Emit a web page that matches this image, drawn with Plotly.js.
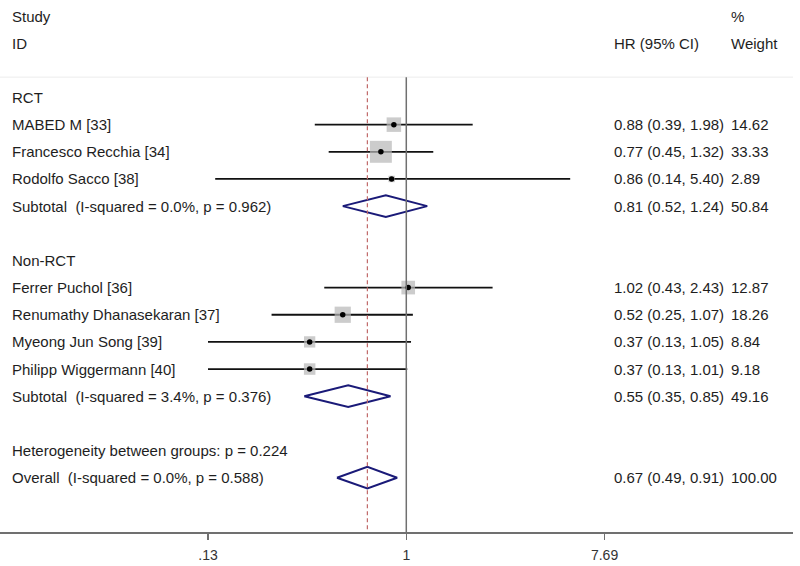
<!DOCTYPE html>
<html><head><meta charset="utf-8">
<script src="https://cdn.plot.ly/plotly-3.0.1.min.js"></script>
<style>html,body{margin:0;padding:0;background:#fff}#chart{width:800px;height:566px}</style>
</head><body><div id="chart"></div>
<script>
// ---- data ----
const groupNames = ['RCT', 'Non-RCT'];
const studies = ['MABED M [33]', 'Francesco Recchia [34]', 'Rodolfo Sacco [38]',
  'Ferrer Puchol [36]', 'Renumathy Dhanasekaran [37]', 'Myeong Jun Song [39]', 'Philipp Wiggermann [40]'];
const studyGroup = [0, 0, 0, 1, 1, 1, 1];
const hr = [0.88, 0.77, 0.86, 1.02, 0.52, 0.37, 0.37];
const lo = [0.39, 0.45, 0.14, 0.43, 0.25, 0.13, 0.13];
const hi = [1.98, 1.32, 5.40, 2.43, 1.07, 1.05, 1.01];
const weight = [14.62, 33.33, 2.89, 12.87, 18.26, 8.84, 9.18];
const subLabels = ['Subtotal\u00a0 (I-squared = 0.0%, p = 0.962)', 'Subtotal\u00a0 (I-squared = 3.4%, p = 0.376)'];
const subHr = [0.81, 0.55];
const subLo = [0.52, 0.35];
const subHi = [1.24, 0.85];
const subW = [50.84, 49.16];
const hetLabel = 'Heterogeneity between groups: p = 0.224';
const overallLabel = 'Overall\u00a0 (I-squared = 0.0%, p = 0.588)';
const overallHr = 0.67, overallLo = 0.49, overallHi = 0.91, overallW = 100.00;
const tickVals = [0.13, 1, 7.69];
const tickText = ['.13', '1', '7.69'];
const nullValue = 1;

// ---- layout of rows ----
const FONT = 'Liberation Sans, Arial, sans-serif';
const TXT = '#1e1e1e';
const studyRow = [], subRow = [], groupRow = [];
let r = 3;
groupNames.forEach((g, gi) => {
  groupRow.push(r); r++;
  studies.forEach((s, i) => { if (studyGroup[i] === gi) { studyRow[i] = r; r++; } });
  subRow.push(r); r++;
  r++;
});
const hetRow = r; r++;
const overallRow = r;
const sepRow = 2.25, bottomRow = 19.0;
const H = 0.4;

const fmt = v => v.toFixed(2);
const hrText = (e, l, h) => `${fmt(e)} (${fmt(l)}, ${fmt(h)})`;

// CI lines
const ciX = [], ciY = [];
studies.forEach((s, i) => { ciX.push(lo[i], hi[i], null); ciY.push(studyRow[i], studyRow[i], null); });

// diamonds
const dX = [], dY = [];
function diamond(e, l, h, row) {
  dX.push(l, e, h, e, l, null);
  dY.push(row, row - H, row, row + H, row, null);
}
subHr.forEach((e, i) => diamond(e, subLo[i], subHi[i], subRow[i]));
diamond(overallHr, overallLo, overallHi, overallRow);

const traces = [
  { x: ciX, y: ciY, mode: 'lines', line: { color: '#111', width: 1.8 }, hoverinfo: 'skip', showlegend: false },
  { x: hr, y: studyRow, mode: 'markers', marker: { symbol: 'square', size: weight.map(w => 3.8 * Math.sqrt(w)), color: '#b6b6b6', line: { width: 0 } }, hoverinfo: 'skip', showlegend: false },
  { x: hr, y: studyRow, mode: 'markers', marker: { symbol: 'circle', size: 5.5, color: '#000' }, hoverinfo: 'skip', showlegend: false },
  { x: dX, y: dY, mode: 'lines', line: { color: '#1a1a78', width: 2 }, hoverinfo: 'skip', showlegend: false }
];

const PW = 793;
const px = p => p / PW;
const ann = [];
function txt(x, row, text) {
  ann.push({ xref: 'paper', yref: 'y', x: px(x), y: row, text: text, showarrow: false,
    xanchor: 'left', yanchor: 'middle', font: { family: FONT, size: 15, color: TXT } });
}
txt(10, 0, 'Study'); txt(10, 1, 'ID');
txt(612, 1, 'HR (95% CI)'); txt(729, 0, '%'); txt(729, 1, 'Weight');
groupNames.forEach((g, gi) => {
  txt(10, groupRow[gi], g);
  txt(10, subRow[gi], subLabels[gi]);
  txt(612, subRow[gi], hrText(subHr[gi], subLo[gi], subHi[gi]));
  txt(729, subRow[gi], fmt(subW[gi]));
});
studies.forEach((s, i) => {
  txt(10, studyRow[i], s);
  txt(612, studyRow[i], hrText(hr[i], lo[i], hi[i]));
  txt(729, studyRow[i], fmt(weight[i]));
});
txt(10, hetRow, hetLabel);
txt(10, overallRow, overallLabel);
txt(612, overallRow, hrText(overallHr, overallLo, overallHi));
txt(729, overallRow, fmt(overallW));

const shapes = [
  { type: 'line', xref: 'paper', yref: 'y', x0: 0, x1: 1, y0: sepRow, y1: sepRow, line: { color: '#ececec', width: 1 } },
  { type: 'line', xref: 'x', yref: 'y', x0: nullValue, x1: nullValue, y0: sepRow, y1: bottomRow, line: { color: '#707070', width: 1.5 } },
  { type: 'line', xref: 'x', yref: 'y', x0: overallHr, x1: overallHr, y0: sepRow, y1: bottomRow, line: { color: '#c06868', width: 1.2, dash: '4px,3px' } }
];

const layout = {
  width: 800, height: 566,
  margin: { l: 0, r: 800 - PW, t: 0, b: 34 },
  paper_bgcolor: '#fff', plot_bgcolor: '#fff',
  xaxis: { type: 'log', range: [-1.8155, 1.728], tickvals: tickVals, ticktext: tickText,
    showline: true, linecolor: '#707070', linewidth: 1.5, ticks: 'outside', ticklen: 6, tickcolor: '#707070', tickwidth: 1.5,
    showgrid: false, zeroline: false, tickfont: { family: FONT, size: 14, color: '#333' }, ticklabelstandoff: 4, fixedrange: true },
  yaxis: { range: [bottomRow, -0.59], visible: false, showgrid: false, zeroline: false, fixedrange: true },
  annotations: ann, shapes: shapes, showlegend: false
};
Plotly.newPlot('chart', traces, layout, { staticPlot: true });
</script></body></html>
